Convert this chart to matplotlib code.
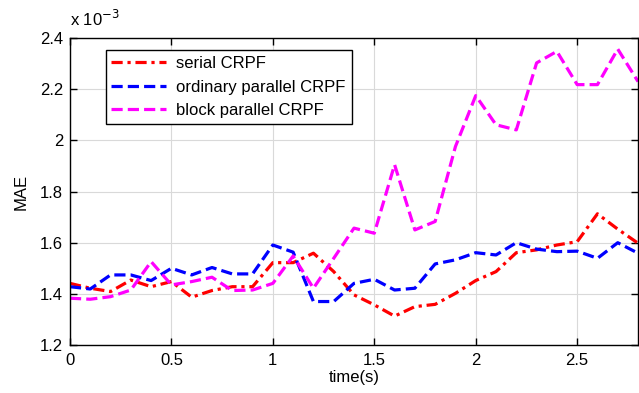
import matplotlib
matplotlib.use("Agg")
import matplotlib.pyplot as plt
from matplotlib.ticker import FuncFormatter

# --- data (MAE in units of 1e-3) ---
time_s = [0.0, 0.1, 0.2, 0.3, 0.4, 0.5, 0.6, 0.7, 0.8, 0.9,
          1.0, 1.1, 1.2, 1.3, 1.4, 1.5, 1.6, 1.7, 1.8, 1.9,
          2.0, 2.1, 2.2, 2.3, 2.4, 2.5, 2.6, 2.7, 2.8]

mae_serial = [1.441, 1.422, 1.409, 1.454, 1.428, 1.448, 1.387, 1.413, 1.428, 1.428,
              1.522, 1.522, 1.559, 1.487, 1.396, 1.357, 1.313, 1.350, 1.359, 1.402,
              1.452, 1.487, 1.561, 1.572, 1.591, 1.604, 1.713, 1.653, 1.598]

mae_ordinary = [1.428, 1.419, 1.474, 1.474, 1.452, 1.500, 1.474, 1.503, 1.478, 1.478,
                1.591, 1.563, 1.370, 1.370, 1.441, 1.457, 1.415, 1.422, 1.517, 1.533,
                1.561, 1.552, 1.600, 1.575, 1.565, 1.567, 1.539, 1.600, 1.559]

mae_block = [1.383, 1.379, 1.389, 1.415, 1.526, 1.435, 1.448, 1.465, 1.413, 1.415,
             1.441, 1.548, 1.422, 1.539, 1.657, 1.637, 1.905, 1.650, 1.683, 1.976,
             2.175, 2.061, 2.041, 2.303, 2.348, 2.218, 2.218, 2.357, 2.230]

labels = ['serial CRPF', 'ordinary parallel CRPF', 'block parallel CRPF']

plt.rcParams['font.family'] = ['Liberation Sans', 'DejaVu Sans']
plt.rcParams['font.size'] = 12

fig = plt.figure(figsize=(6.39, 3.93), dpi=100)
ax = fig.add_axes([0.1095, 0.1221, 0.889, 0.781])

scale = 1e-3
ax.plot(time_s, [v * scale for v in mae_serial], color='red', lw=2.3,
        linestyle=(0, (3.5, 1.5, 1, 1.5)), label=labels[0])
ax.plot(time_s, [v * scale for v in mae_ordinary], color='blue', lw=2.3,
        linestyle=(0, (3.5, 1.6)), label=labels[1])
ax.plot(time_s, [v * scale for v in mae_block], color='magenta', lw=2.3,
        linestyle=(0, (3.5, 1.6)), label=labels[2])

ax.set_xlim(0, 2.8)
ax.set_ylim(1.2e-3, 2.4e-3)
ax.set_xticks([0, 0.5, 1, 1.5, 2, 2.5])
ax.set_yticks([1.2e-3, 1.4e-3, 1.6e-3, 1.8e-3, 2.0e-3, 2.2e-3, 2.4e-3])
ax.xaxis.set_major_formatter(FuncFormatter(lambda v, p: '%g' % v))
ax.yaxis.set_major_formatter(FuncFormatter(lambda v, p: '%g' % round(v / scale, 3)))
ax.tick_params(direction='in', top=True, right=True, length=5, width=1)
ax.tick_params(axis='x', pad=6)
ax.tick_params(axis='y', pad=5)
ax.grid(True, color='#d9d9d9', linewidth=0.8)
ax.set_axisbelow(True)
for s in ax.spines.values():
    s.set_linewidth(1)

ax.set_xlabel('time(s)', labelpad=1)
ax.set_ylabel('MAE', labelpad=8)
fig.text(0.11, 0.925, r'x 10$^{-3}$', fontsize=12, ha='left', va='bottom')

leg = ax.legend(loc='upper left', bbox_to_anchor=(0.048, 0.987), fancybox=False,
                edgecolor='black', framealpha=1, handlelength=3.3,
                borderpad=0.35, labelspacing=0.5, handletextpad=0.6)
leg.get_frame().set_linewidth(1)

fig.savefig('out.png', dpi=100)
